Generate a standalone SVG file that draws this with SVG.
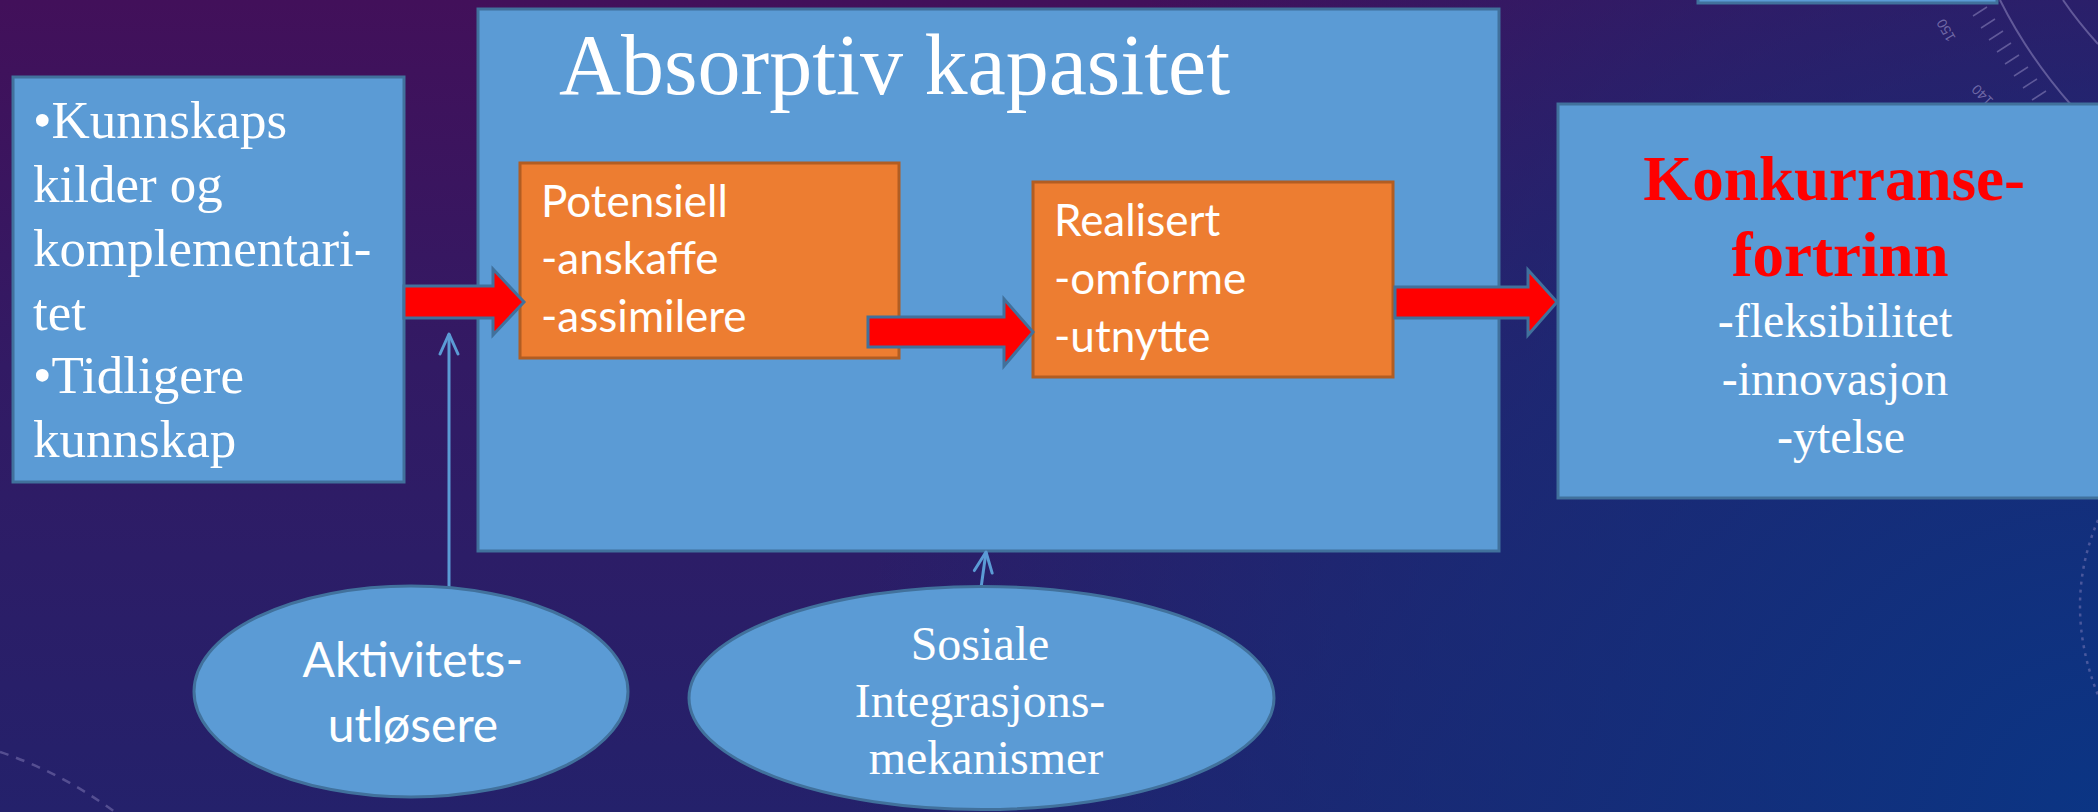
<svg xmlns="http://www.w3.org/2000/svg" width="2098" height="812" viewBox="0 0 2098 812">
  <defs>
    <linearGradient id="bgBase" x1="0" y1="0" x2="0" y2="812" gradientUnits="userSpaceOnUse">
      <stop offset="0" stop-color="#42105a"/>
      <stop offset="0.45" stop-color="#321a64"/>
      <stop offset="1" stop-color="#24216b"/>
    </linearGradient>
    <radialGradient id="bgBlue" cx="2098" cy="812" r="1250" gradientUnits="userSpaceOnUse">
      <stop offset="0" stop-color="#0b3584" stop-opacity="1"/>
      <stop offset="0.55" stop-color="#10307c" stop-opacity="0.6"/>
      <stop offset="1" stop-color="#10307c" stop-opacity="0"/>
    </radialGradient>
    <marker id="openArrow" viewBox="0 0 24 22" refX="22" refY="11" markerWidth="24" markerHeight="22" markerUnits="userSpaceOnUse" orient="auto">
      <path d="M2,2 L22,11 L2,20" fill="none" stroke="#5B9BD5" stroke-width="3" stroke-linecap="round" stroke-linejoin="round"/>
    </marker>
    <style>
      .box { fill: #5B9BD5; stroke: #41719C; stroke-width: 3; }
      .orange { fill: #ED7D31; stroke: #B25D22; stroke-width: 3; }
      .block { fill: #FF0000; stroke: #41719C; stroke-width: 3; stroke-linejoin: miter; }
      .thin { fill: none; stroke: #5B9BD5; stroke-width: 3; marker-end: url(#openArrow); }
      .serif { font-family: "Liberation Serif", "Times New Roman", serif; fill: #FFFFFF; }
      .sans { font-family: Lato, "Open Sans", "Liberation Sans", sans-serif; fill: #FFFFFF; }
      .deco { fill: none; stroke: #9088c0; stroke-opacity: 0.55; }
      .dial { font-family: "Liberation Sans", sans-serif; font-size: 14px; fill: #9088c0; fill-opacity: 0.7; }
    </style>
  </defs>

  <!-- background -->
  <rect x="0" y="0" width="2098" height="812" fill="url(#bgBase)"/>
  <rect x="0" y="0" width="2098" height="812" fill="url(#bgBlue)"/>

  <!-- dial ornament, top right -->
  <g id="ornament">
    <path class="deco" stroke-width="2" d="M2000,0 Q2028,56 2072,106"/>
    <path class="deco" stroke-width="2" d="M2063,0 Q2078,22 2098,44"/>
    <g stroke="#9088c0" stroke-opacity="0.55" stroke-width="1.5">
      <line x1="1973" y1="16" x2="1987" y2="7"/>
      <line x1="1981" y1="28" x2="1995" y2="19"/>
      <line x1="1989" y1="40" x2="2003" y2="31"/>
      <line x1="1997" y1="52" x2="2011" y2="43"/>
      <line x1="2005" y1="64" x2="2019" y2="55"/>
      <line x1="2014" y1="76" x2="2028" y2="67"/>
      <line x1="2023" y1="88" x2="2037" y2="79"/>
      <line x1="2032" y1="100" x2="2046" y2="91"/>
    </g>
    <text class="dial" transform="translate(1956,38) rotate(-120)">150</text>
    <text class="dial" transform="translate(1994,100) rotate(-135)">140</text>
    <path fill="none" stroke="#9088c0" stroke-opacity="0.45" stroke-width="2.5" stroke-dasharray="9 8" d="M0,752 Q60,772 115,812"/>
    <path fill="none" stroke="#9088c0" stroke-opacity="0.45" stroke-width="2.5" stroke-dasharray="3 5" d="M2098,520 Q2062,605 2098,695"/>
  </g>

  <!-- partially visible box at the top edge -->
  <g id="top-box">
    <rect class="box" x="1698" y="-100" width="299" height="103"/>
  </g>

  <!-- absorptive capacity container -->
  <g id="absorptiv">
    <rect class="box" x="478" y="9" width="1021" height="542"/>
    <text class="serif" x="559" y="94" font-size="86">Absorptiv kapasitet</text>
  </g>

  <!-- knowledge sources -->
  <g id="kilder">
    <rect class="box" x="13" y="77" width="391" height="405"/>
    <text class="serif" font-size="53">
      <tspan x="33" y="138">•Kunnskaps</tspan>
      <tspan x="33" y="202">kilder og</tspan>
      <tspan x="33" y="266">komplementari-</tspan>
      <tspan x="33" y="330">tet</tspan>
      <tspan x="33" y="393">•Tidligere</tspan>
      <tspan x="33" y="457">kunnskap</tspan>
    </text>
  </g>

  <!-- competitive advantage -->
  <g id="konkurransefortrinn">
    <rect class="box" x="1558" y="104" width="560" height="394"/>
    <text class="serif" text-anchor="middle" font-size="63" font-weight="bold" style="fill:#FF0000">
      <tspan x="1842" y="200">Konkurranse-</tspan>
      <tspan x="1840" y="276">fortrinn</tspan>
    </text>
    <text class="serif" text-anchor="middle" font-size="48">
      <tspan x="1841" y="337">-fleksibilitet</tspan>
      <tspan x="1841" y="395">-innovasjon</tspan>
      <tspan x="1841" y="453">-ytelse</tspan>
    </text>
  </g>

  <!-- potential capacity -->
  <g id="potensiell">
    <rect class="orange" x="520" y="163" width="379" height="195"/>
    <text class="sans" font-size="44">
      <tspan x="541" y="217">Potensiell</tspan>
      <tspan x="541" y="274">-anskaffe</tspan>
      <tspan x="541" y="332">-assimilere</tspan>
    </text>
  </g>

  <!-- realised capacity -->
  <g id="realisert">
    <rect class="orange" x="1033" y="182" width="360" height="195"/>
    <text class="sans" font-size="44">
      <tspan x="1054" y="236">Realisert</tspan>
      <tspan x="1054" y="294">-omforme</tspan>
      <tspan x="1054" y="352">-utnytte</tspan>
    </text>
  </g>

  <!-- connectors -->
  <g id="connectors">
    <polygon class="block" points="404,286 493,286 493,269 524,302 493,335 493,318 404,318"/>
    <polygon class="block" points="868,317 1004,317 1004,299 1033,332 1004,366 1004,347 868,347"/>
    <polygon class="block" points="1395,287 1528,287 1528,270 1557,302 1528,335 1528,318 1395,318"/>
    <line class="thin" x1="449" y1="587" x2="449" y2="334"/>
    <line class="thin" x1="981" y1="588" x2="986" y2="552"/>
  </g>

  <!-- activation triggers -->
  <g id="aktivitetsutlosere">
    <ellipse class="box" cx="411" cy="691.5" rx="217" ry="105.5"/>
    <text class="sans" text-anchor="middle" font-size="48">
      <tspan x="419" y="677">Aktivitets-</tspan>
      <tspan x="413" y="742">utløsere</tspan>
    </text>
  </g>

  <!-- social integration mechanisms -->
  <g id="sosiale">
    <ellipse class="box" cx="981.5" cy="698" rx="292.5" ry="111.5"/>
    <text class="serif" text-anchor="middle" font-size="48">
      <tspan x="986" y="660">Sosiale</tspan>
      <tspan x="986" y="717">Integrasjons-</tspan>
      <tspan x="986" y="774">mekanismer</tspan>
    </text>
  </g>
</svg>
